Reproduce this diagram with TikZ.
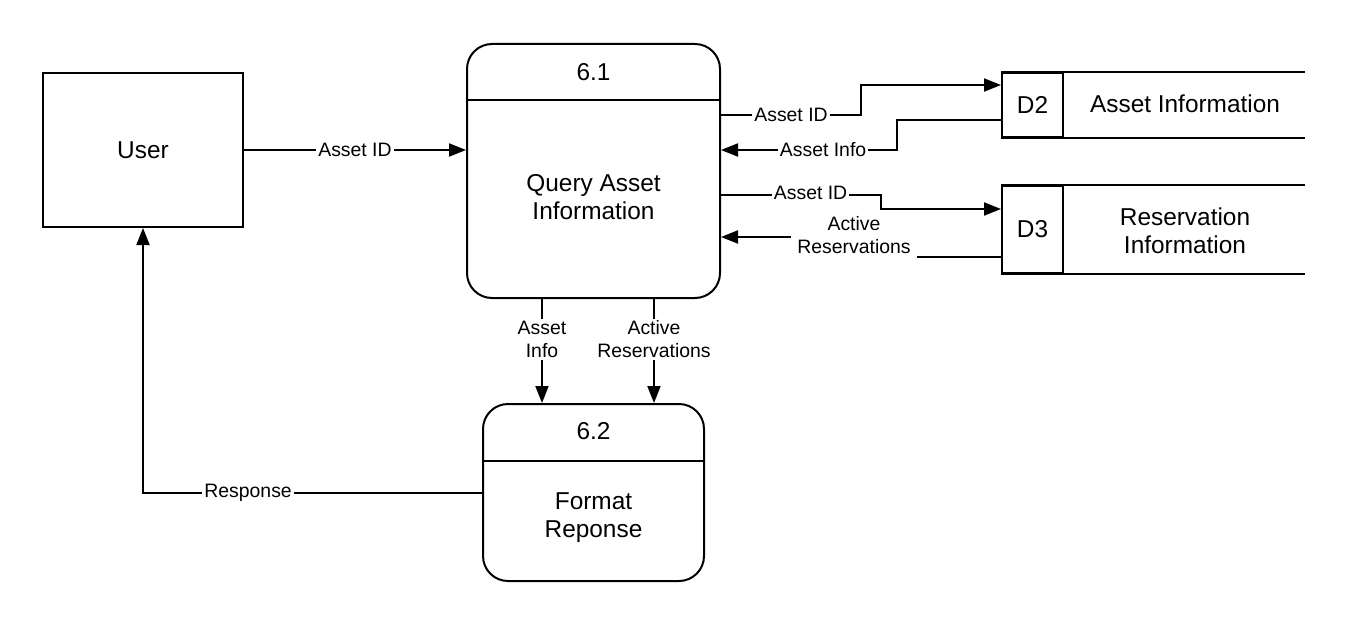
\documentclass[tikz,border=0pt]{standalone}
\usepackage{fontspec}
\setmainfont{Liberation Sans}
\usetikzlibrary{arrows.meta,positioning,calc}

\begin{document}
\begin{tikzpicture}[
		x=0.5pt, y=-0.5pt,
		entity/.style={rectangle, draw, line width=1pt, minimum width=100pt, minimum height=77pt,
			font=\fontsize{12.2}{14}\selectfont},
		process/.style={rectangle, draw, line width=1pt, rounded corners=12.5pt},
		txt/.style={align=center, font=\fontsize{12.2}{14}\selectfont},
		storeid/.style={rectangle, draw, line width=1pt, minimum width=30.5pt,
			font=\fontsize{12.2}{14}\selectfont},
		flow/.style={-{Triangle[length=8.5pt,width=6.5pt]}, line width=1pt},
		lbl/.style={fill=white, inner sep=1pt, align=center, font=\fontsize{9.7}{11.5}\selectfont},
		]
		\useasboundingbox (0,0) rectangle (1352,626);
		
		\node[entity] (User) at (143,150) {User};
		
		\node[process, minimum width=126.5pt, minimum height=127pt] (P61) at (593.5,171) {};
		\draw[line width=1pt] ([yshift=-28.5pt]P61.north west) -- ([yshift=-28.5pt]P61.north east);
		\node[txt] (T61) at (593.5,72) {6.1};
		\node[txt] (Q61) at (593.5,197) {Query Asset\\Information};
		
		\node[process, minimum width=110.5pt, minimum height=88.5pt] (P62) at (593.5,492.5) {};
		\draw[line width=1pt] ([yshift=-29pt]P62.north west) -- ([yshift=-29pt]P62.north east);
		\node[txt] (T62) at (593.5,431) {6.2};
		\node[txt] (F62) at (593.5,518) {Format\\Reponse};
		
		% data stores
		\node[storeid, minimum height=32pt] (D2) at (1032.5,105) {D2};
		\node[txt] (N2) at (1185,104) {Asset Information};
		\draw[line width=1pt] (D2.north west) -- ++(152pt,0);
		\draw[line width=1pt] (D2.south west) -- ++(152pt,0);
		
		\node[storeid, minimum height=43.5pt] (D3) at (1032.5,229.5) {D3};
		\node[txt] (N3) at (1185,231) {Reservation\\Information};
		\draw[line width=1pt] (D3.north west) -- ++(152pt,0);
		\draw[line width=1pt] (D3.south west) -- ++(152pt,0);
		
		% flows
		\draw[flow] (User.east) -- node[lbl]{Asset ID} (User.east -| P61.west);
		
		\draw[flow] ([yshift=28pt]P61.east) -- node[lbl]{Asset ID} ++(70pt,0) |- ([yshift=10pt]D2.west);
		\draw[flow] ([yshift=-7.5pt]D2.west) -- ++(-52pt,0) |- node[lbl, pos=0.71]{Asset Info} ([yshift=10.5pt]P61.east);
		
		\draw[flow] ([yshift=-12pt]P61.east) -- node[lbl, pos=0.56, yshift=1pt]{Asset ID} ++(80pt,0) |- ([yshift=10.25pt]D3.west);
		\draw[flow] ([yshift=-13.75pt]D3.west) -- ++(-73.5pt,0) |- node[lbl, pos=0.5, inner sep=3pt, yshift=1pt]{Active\\Reservations} ([yshift=-33pt]P61.east);
		
		\draw[flow] ([xshift=-25.75pt]P61.south) -- node[lbl, pos=0.39]{Asset\\Info} ([xshift=-25.75pt]P61.south |- P62.north);
		\draw[flow] ([xshift=30.25pt]P61.south) -- node[lbl, pos=0.39]{Active\\Reservations} ([xshift=30.25pt]P61.south |- P62.north);
		
		\draw[flow] (P62.west) -| node[lbl, pos=0.345]{Response} (User.south);
\end{tikzpicture}
\end{document}
